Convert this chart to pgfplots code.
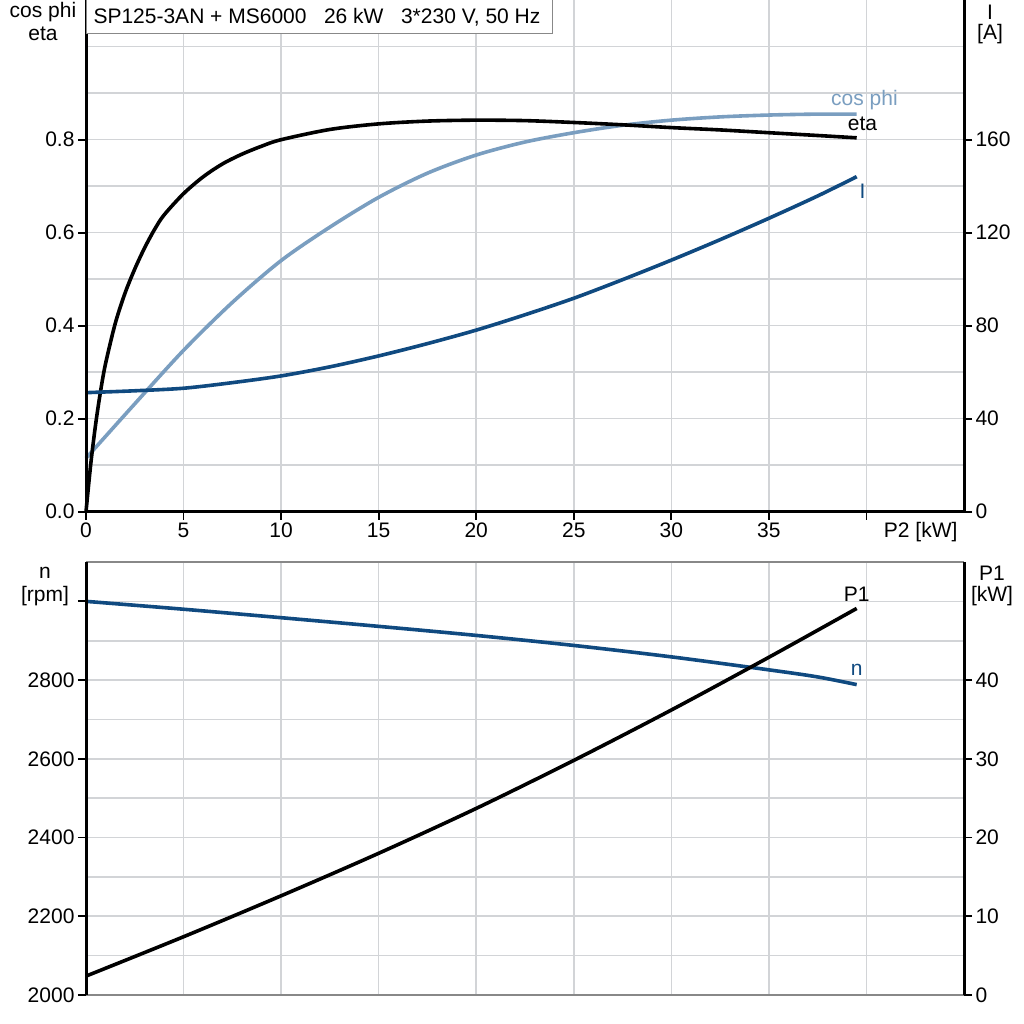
\documentclass[border=0pt]{standalone}
\usepackage{fontspec}
\setmainfont{Liberation Sans}
\usepackage{pgfplots}
\pgfplotsset{compat=1.18}
\definecolor{dblue}{HTML}{104A80}
\definecolor{lblue}{HTML}{7A9EC0}
\definecolor{gridc}{HTML}{D2D4D7}
\definecolor{frameg}{HTML}{888888}
\newcommand{\fs}{\fontsize{21}{25}\selectfont}
\pgfplotsset{
  base/.style={scale only axis, width=878pt, xmin=0, xmax=45, clip=false,
    axis line style={draw=none},
    tick align=outside, major tick length=8pt, minor tick length=0pt,
    tick style={black, line width=1.8pt},
    tick label style={font=\fs},
    /pgf/number format/assume math mode=true,
    grid style={gridc, line width=1.6pt},
  },
}
\begin{document}
\begin{tikzpicture}
\useasboundingbox (0pt,0pt) rectangle (1024pt,1024pt);
% ---------------- top panel ----------------
\begin{axis}[base, at={(86pt,512.3pt)}, anchor=south west, height=511.5pt,
  ymin=0, ymax=1.1,
  xtick={0,5,...,40}, xticklabels={0,5,10,15,20,25,30,35,{}},
  ytick={0,0.2,0.4,0.6,0.8}, yticklabels={0.0,0.2,0.4,0.6,0.8},
  minor ytick={0.1,0.3,0.5,0.7,0.9,1.0},
  xmajorgrids, ymajorgrids, yminorgrids,
  ytick pos=left, xtick pos=bottom,
]
\addplot[lblue, line width=3.6pt, smooth, tension=0.5] coordinates {
  (0,0.115) (2.5,0.232) (5,0.347) (7.5,0.450) (10,0.540) (12.5,0.612)
  (15,0.676) (17.5,0.728) (20,0.767) (22.5,0.795) (25,0.815) (27.5,0.831)
  (30,0.842) (32.5,0.849) (35,0.853) (37.5,0.855) (39.5,0.855)};
\addplot[black, line width=3.6pt, smooth, tension=0.5] coordinates {
  (0,0) (0.25,0.105) (0.5,0.19) (0.75,0.26) (1.0,0.318) (1.5,0.405)
  (2.0,0.47) (2.5,0.522) (3.0,0.567) (3.5,0.606) (4.0,0.638) (5,0.684)
  (6,0.720) (7,0.748) (8,0.769) (9,0.786) (10,0.800) (12.5,0.822)
  (15,0.834) (17.5,0.840) (20,0.842) (22.5,0.841) (25,0.837) (27.5,0.832)
  (30,0.826) (32.5,0.821) (35,0.815) (37.5,0.809) (39.5,0.804)};
\node[font=\fs, text=lblue] at (axis cs:39.9,0.885) {cos phi};
\node[font=\fs, text=black] at (axis cs:39.8,0.834) {eta};
\node[font=\fs, text=dblue] at (axis cs:39.8,0.688) {I};
\node[font=\fs, anchor=west] at (axis cs:40,0) [xshift=14pt, yshift=-20pt] {P2 [kW]};
\end{axis}
\begin{axis}[base, at={(86pt,512.3pt)}, anchor=south west, height=511.5pt,
  ymin=0, ymax=220, hide x axis,
  ytick={0,40,...,160}, ytick pos=right, yticklabel pos=right,
]
\addplot[dblue, line width=3.6pt, smooth, tension=0.5] coordinates {
  (0,51.2) (2.5,52) (5,53.1) (7.5,55.5) (10,58.4) (12.5,62.3) (15,67)
  (17.5,72.3) (20,78.1) (22.5,84.7) (25,91.8) (27.5,99.8) (30,108.2)
  (32.5,117) (35,126.2) (37.5,135.8) (39.5,144.1)};
\draw[black, line width=3pt] (rel axis cs:0,1) -- (rel axis cs:0,0) -- (rel axis cs:1,0) -- (rel axis cs:1,1);
\end{axis}
% ---------------- bottom panel ----------------
\begin{axis}[base, at={(86pt,29pt)}, anchor=south west, height=433pt,
  ymin=2000, ymax=3100,
  xtick={0,5,...,45}, xticklabels={}, xtick style={draw=none},
  ytick={2000,2200,...,3000}, yticklabels={2000,2200,2400,2600,2800,{}},
  minor ytick={2100,2300,2500,2700,2900},
  xmajorgrids, ymajorgrids, yminorgrids,
  ytick pos=left,
]
\addplot[dblue, line width=3.6pt, smooth, tension=0.5] coordinates {
  (0,3000) (5,2980) (10,2958.5) (15,2936.5) (20,2913.5) (25,2888)
  (30,2859) (35,2826) (37.5,2808) (39.5,2788.5)};
\node[font=\fs, text=dblue] at (axis cs:39.5,2825) {n};
\node[font=\fs, text=black] at (axis cs:39.5,3018) {P1};
\end{axis}
\begin{axis}[base, at={(86pt,29pt)}, anchor=south west, height=433pt,
  ymin=0, ymax=55, hide x axis,
  ytick={0,10,...,40}, ytick pos=right, yticklabel pos=right,
]
\addplot[black, line width=3.6pt, smooth, tension=0.5] coordinates {
  (0,2.4) (5,7.4) (10,12.6) (15,18.0) (20,23.7) (25,29.8)
  (30,36.2) (35,42.9) (39.5,49.1)};
\draw[frameg, line width=2.5pt] (rel axis cs:0,1) -- (rel axis cs:1,1);
\draw[frameg, line width=2.5pt] (rel axis cs:0,0) -- (rel axis cs:1,0);
\draw[black, line width=3pt] (rel axis cs:0,0) -- (rel axis cs:0,1);
\draw[black, line width=3pt] (rel axis cs:1,0) -- (rel axis cs:1,1);
\end{axis}
% ---------------- outer labels ----------------
\node[font=\fs] at (43pt,1012pt) {cos phi};
\node[font=\fs] at (43pt,990pt) {eta};
\node[font=\fs] at (990pt,1012pt) {I};
\node[font=\fs] at (990pt,990pt) {[A]};
\node[font=\fs] at (45pt,451pt) {n};
\node[font=\fs] at (45pt,428pt) {[rpm]};
\node[font=\fs] at (992pt,451pt) {P1};
\node[font=\fs] at (992pt,428pt) {[kW]};
\draw[frameg, line width=1pt, fill=white] (86pt,1025pt) rectangle (552pt,990pt);
\node[font=\fs, anchor=west] at (90pt,1007pt) {SP125-3AN + MS6000\ \ \ 26 kW\ \ \ 3*230 V, 50 Hz};
\end{tikzpicture}
\end{document}
